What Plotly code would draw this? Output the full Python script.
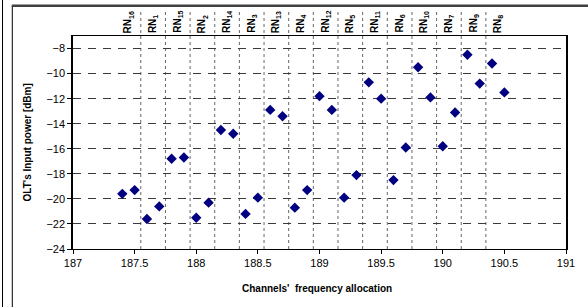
import plotly.graph_objects as go

# ---- data ----
freq = [187.4, 187.5, 187.6, 187.7, 187.8, 187.9, 188.0, 188.1,
        188.2, 188.3, 188.4, 188.5, 188.6, 188.7, 188.8, 188.9,
        189.0, 189.1, 189.2, 189.3, 189.4, 189.5, 189.6, 189.7,
        189.8, 189.9, 190.0, 190.1, 190.2, 190.3, 190.4, 190.5]
power = [-19.6, -19.3, -21.6, -20.6, -16.8, -16.7, -21.5, -20.3,
         -14.5, -14.8, -21.2, -19.9, -12.9, -13.4, -20.7, -19.3,
         -11.8, -12.9, -19.9, -18.1, -10.7, -12.0, -18.5, -15.9,
         -9.5, -11.9, -15.8, -13.1, -8.5, -10.8, -9.2, -11.5]
rn_numbers = [16, 1, 15, 2, 14, 3, 13, 4, 12, 5, 11, 6, 10, 7, 9, 8]
rn_centers = [187.45, 187.65, 187.85, 188.05, 188.25, 188.45, 188.65, 188.85,
              189.05, 189.25, 189.45, 189.65, 189.85, 190.05, 190.25, 190.45]
dividers = [187.55, 187.75, 187.95, 188.15, 188.35, 188.55, 188.75,
            188.95, 189.15, 189.35, 189.55, 189.75, 189.95, 190.15, 190.35]
x_range = [187, 191]
y_range = [-24, -7]

FONT = "Liberation Sans, Arial, sans-serif"

fig = go.Figure()
fig.add_trace(go.Scatter(
    x=freq, y=power, mode="markers",
    marker=dict(symbol="diamond", size=8, color="#000080",
                line=dict(width=0)),
    showlegend=False, hoverinfo="x+y"))

shapes = []
for d in dividers:
    shapes.append(dict(type="line", xref="x", yref="paper",
                       x0=d, x1=d, y0=0, y1=1.12, layer="below",
                       line=dict(color="#666666", width=1, dash="dot")))
# outer frame lines (chart area edges)
shapes.append(dict(type="line", xref="paper", yref="paper",
                   x0=-0.1430, x1=-0.1430, y0=-0.28, y1=1.17,
                   line=dict(color="black", width=1)))
shapes.append(dict(type="line", xref="paper", yref="paper",
                   x0=-0.1231, x1=-0.1231, y0=-0.28, y1=1.144,
                   line=dict(color="black", width=1)))
shapes.append(dict(type="line", xref="paper", yref="paper",
                   x0=-0.1241, x1=1.06, y0=1.142, y1=1.142,
                   line=dict(color="#404040", width=2.5)))

annotations = []
for n, c in zip(rn_numbers, rn_centers):
    annotations.append(dict(
        x=c, y=1, xref="x", yref="paper",
        text="<b>RN<sub>%d</sub></b>" % n, textangle=-90,
        showarrow=False, xanchor="center", yanchor="bottom", yshift=1,
        font=dict(family=FONT, size=10, color="black")))
annotations.append(dict(
    x=-0.0913, y=0.5, xref="paper", yref="paper",
    text="<b>OLT's Input power [dBm]</b>", textangle=-90,
    showarrow=False, xanchor="center", yanchor="middle",
    font=dict(family=FONT, size=10, color="black")))
annotations.append(dict(
    x=0.495, y=-0.184, xref="paper", yref="paper",
    text="<b>Channels'  frequency allocation</b>",
    showarrow=False, xanchor="center", yanchor="middle",
    font=dict(family=FONT, size=10, color="black")))

fig.update_layout(
    width=588, height=307,
    margin=dict(l=73, r=22, t=36, b=58),
    paper_bgcolor="white", plot_bgcolor="white",
    font=dict(family=FONT, size=11, color="black"),
    shapes=shapes, annotations=annotations,
    xaxis=dict(range=x_range, dtick=0.5, tick0=187,
               showgrid=False, zeroline=False,
               showline=True, linecolor="black", linewidth=1, mirror=True,
               ticks="outside", ticklen=4, tickcolor="black",
               tickfont=dict(family=FONT, size=11, color="black")),
    yaxis=dict(range=y_range, dtick=2, tick0=-24,
               showgrid=True, gridcolor="#3a3a3a", gridwidth=1,
               griddash="8px,7px", zeroline=False,
               showline=True, linecolor="black", linewidth=1.5, mirror=True,
               ticks="outside", ticklen=4, tickcolor="black",
               tickfont=dict(family=FONT, size=11, color="black")),
)

fig.write_html("out.html",
               config={"displayModeBar": False},
               post_script="document.body.style.margin='0';"
                           "document.body.style.overflow='hidden';")
